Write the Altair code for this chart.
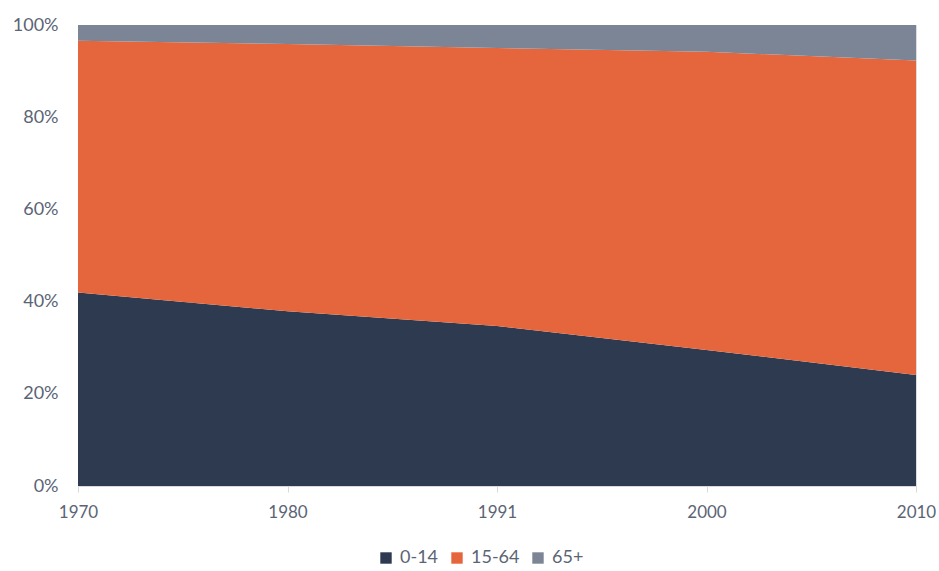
import altair as alt
import pandas as pd

years = ["1970", "1980", "1991", "2000", "2010"]
groups = ["0-14", "15-64", "65+"]
age_0_14 = [42.0, 37.9, 34.7, 29.5, 24.1]
age_15_64 = [54.6, 58.0, 60.3, 64.7, 68.2]
age_65p = [3.4, 4.1, 5.0, 5.8, 7.7]
colors = ["#2e3a4f", "#e5663c", "#7b8595"]

rows = []
for series, name, order in [(age_0_14, "0-14", 0), (age_15_64, "15-64", 1), (age_65p, "65+", 2)]:
    for y, v in zip(years, series):
        rows.append({"year": y, "group": name, "value": v, "ord": order})
df = pd.DataFrame(rows)

font = "Lato"
txt = "#5b6475"

chart = alt.Chart(df).mark_area(opacity=1).encode(
    x=alt.X("year:O", sort=years,
            scale=alt.Scale(type="point", padding=0),
            axis=alt.Axis(title=None, labelAngle=0, labelFontSize=17, labelColor=txt,
                          labelFont=font, domainColor="#d9d9d9", tickColor="#d9d9d9",
                          tickSize=6, labelPadding=12, grid=False)),
    y=alt.Y("value:Q", stack="normalize",
            scale=alt.Scale(domain=[0, 1]),
            axis=alt.Axis(title=None, format="%", values=[0, 0.2, 0.4, 0.6, 0.8, 1.0],
                          labelFontSize=18, labelColor=txt, labelFont=font,
                          domain=False, ticks=False, labelPadding=20,
                          grid=True, gridColor="#d9d9d9")),
    color=alt.Color("group:N", sort=groups,
                    scale=alt.Scale(domain=groups, range=colors),
                    legend=alt.Legend(title=None, orient="none", direction="horizontal",
                                      legendX=299, legendY=524, symbolType="square",
                                      symbolSize=130, symbolStrokeWidth=0,
                                      labelFontSize=18, labelColor=txt, labelFont=font,
                                      columnPadding=9, symbolOffset=0, labelOffset=5)),
    order=alt.Order("ord:Q", sort="ascending"),
).properties(
    width=838, height=461,
    autosize=alt.AutoSizeParams(type="none"),
    padding={"left": 78, "top": 25, "right": 23, "bottom": 85},
).configure_view(stroke=None).configure(background="white")

chart.save("out.html", embed_options={"renderer": "svg", "actions": False})
